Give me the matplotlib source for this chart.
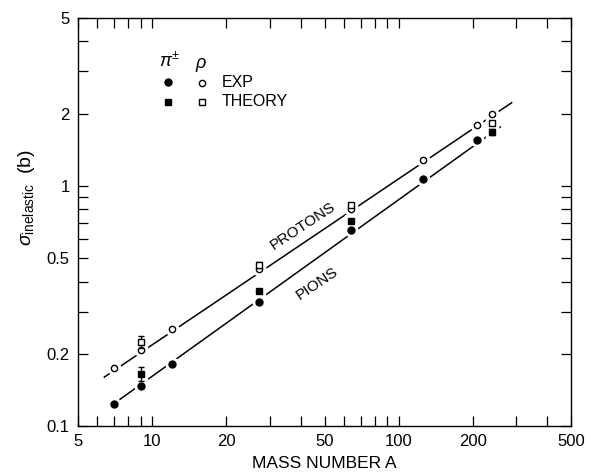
import matplotlib
matplotlib.use("Agg")
import matplotlib.pyplot as plt
from matplotlib.ticker import FixedLocator, FixedFormatter, NullFormatter

plt.rcParams['font.family'] = ['Liberation Sans', 'DejaVu Sans']
plt.rcParams['mathtext.fontset'] = 'custom'
plt.rcParams['mathtext.rm'] = 'Liberation Sans'
plt.rcParams['mathtext.it'] = 'Liberation Sans:italic'

# pion (pi+-) data, experiment
pion_exp_A = [7, 9, 12, 27, 64, 125, 208]
pion_exp_sigma = [0.124, 0.147, 0.182, 0.329, 0.654, 1.07, 1.55]

# pion theory
pion_th_A = [9, 27, 64, 238]
pion_th_sigma = [0.165, 0.364, 0.715, 1.68]
pion_th_err = [0.011, 0.0, 0.0, 0.05]

# proton data, experiment
proton_exp_A = [7, 9, 12, 27, 64, 125, 208, 238]
proton_exp_sigma = [0.175, 0.207, 0.254, 0.449, 0.80, 1.28, 1.80, 2.0]

# proton theory
proton_th_A = [9, 27, 64, 238]
proton_th_sigma = [0.224, 0.468, 0.83, 1.82]
proton_th_err = [0.013, 0.012, 0.0, 0.0]

# straight-line fits drawn on the log-log plot
proton_fit_A = [6.4, 287]
proton_fit_sigma = [0.160, 2.22]
pion_fit_A = [7, 258]
pion_fit_sigma = [0.124, 1.76]

x_major = [5, 10, 20, 50, 100, 200, 500]
x_minor = [6, 7, 8, 9, 30, 40, 60, 70, 80, 90, 300, 400]
y_major = [0.1, 0.2, 0.5, 1, 2, 5]
y_minor = [0.3, 0.4, 0.6, 0.7, 0.8, 0.9, 3, 4]

fig = plt.figure(figsize=(5.9, 4.74), dpi=100)
ax = fig.add_axes([0.132, 0.101, 0.836, 0.861])
ax.set_xscale('log')
ax.set_yscale('log')
ax.set_xlim(5, 500)
ax.set_ylim(0.1, 5)

ax.plot(proton_fit_A, proton_fit_sigma, color='black', lw=1.1, zorder=1)
ax.plot(pion_fit_A, pion_fit_sigma, color='black', lw=1.1, zorder=1)

# white halo behind markers so the lines look broken at each point
halo = dict(ls='none', color='white', ms=9, zorder=2)
ax.plot(pion_exp_A, pion_exp_sigma, 'o', **halo)
ax.plot(proton_exp_A, proton_exp_sigma, 'o', **halo)
ax.plot(pion_th_A, pion_th_sigma, 's', **halo)
ax.plot(proton_th_A, proton_th_sigma, 's', **halo)

ax.plot(pion_exp_A, pion_exp_sigma, 'o', ls='none', color='black', ms=5, zorder=4)
ax.plot(proton_exp_A, proton_exp_sigma, 'o', ls='none', mfc='white', mec='black',
        mew=1.0, ms=4.5, zorder=4)
ax.errorbar(pion_th_A, pion_th_sigma, yerr=pion_th_err, fmt='s', color='black',
            ms=5, capsize=2.5, elinewidth=1, capthick=1, zorder=5)
ax.errorbar(proton_th_A, proton_th_sigma, yerr=proton_th_err, fmt='s', mfc='white',
            mec='black', ecolor='black', ms=4.5, mew=1.0, capsize=2.5,
            elinewidth=1, capthick=1, zorder=5)

ax.text(41.0, 0.682, 'PROTONS', rotation=33.5, ha='center', va='center', fontsize=11)
ax.text(46.7, 0.394, 'PIONS', rotation=34, ha='center', va='center', fontsize=11)

# hand-made legend
ax.text(11.8, 3.3, r'$\pi^{\pm}$', ha='center', va='center', fontsize=13)
ax.text(15.8, 3.2, r'$\rho$', ha='center', va='center', fontsize=13)
ax.plot([11.6], [2.70], 'o', color='black', ms=5)
ax.plot([15.9], [2.68], 'o', mfc='white', mec='black', mew=1.0, ms=4.5)
ax.plot([11.6], [2.24], 's', color='black', ms=5)
ax.plot([15.9], [2.24], 's', mfc='white', mec='black', mew=1.0, ms=4.5)
ax.text(19.1, 2.70, 'EXP', ha='left', va='center', fontsize=11.5)
ax.text(19.1, 2.24, 'THEORY', ha='left', va='center', fontsize=11.5)

ax.xaxis.set_major_locator(FixedLocator(x_major))
ax.xaxis.set_major_formatter(FixedFormatter([str(v) for v in x_major]))
ax.xaxis.set_minor_locator(FixedLocator(x_minor))
ax.xaxis.set_minor_formatter(NullFormatter())
ax.yaxis.set_major_locator(FixedLocator(y_major))
ax.yaxis.set_major_formatter(FixedFormatter(['0.1', '0.2', '0.5', '1', '2', '5']))
ax.yaxis.set_minor_locator(FixedLocator(y_minor))
ax.yaxis.set_minor_formatter(NullFormatter())

ax.tick_params(which='both', direction='in', top=True, right=True,
               length=7, width=0.9, labelsize=12)
ax.tick_params(axis='x', which='major', pad=6)
ax.tick_params(axis='y', which='major', pad=6)
for sp in ax.spines.values():
    sp.set_linewidth(1.0)

ax.set_xlabel('MASS NUMBER A', fontsize=12.5, labelpad=5)
ax.set_ylabel(r'$\sigma_{\mathrm{inelastic}}$  (b)', fontsize=14)
ax.yaxis.set_label_coords(-0.083, 0.56)

fig.savefig('out.png', dpi=100)
